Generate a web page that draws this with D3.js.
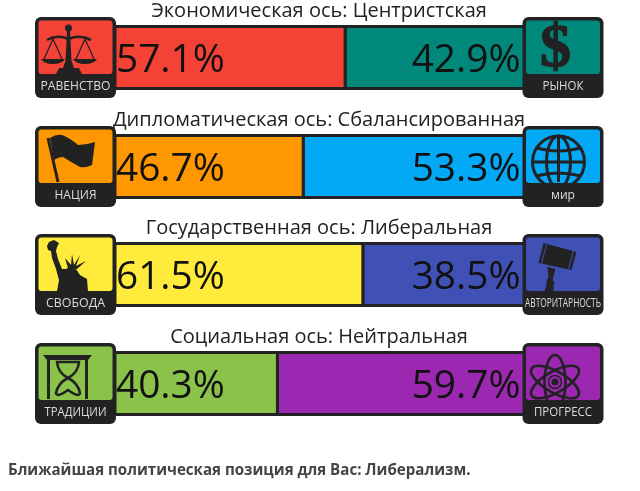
<!DOCTYPE html>
<html><head><meta charset="utf-8">
<script src="https://cdnjs.cloudflare.com/ajax/libs/d3/7.8.5/d3.min.js"></script>
<style>html,body{margin:0;padding:0;background:#fff}svg{display:block;filter:blur(.35px)}text{font-family:"Open Sans",sans-serif}</style>
</head><body><div id="chart"></div>
<script>
const axisTitles = ["Экономическая ось: Центристская","Дипломатическая ось: Сбалансированная","Государственная ось: Либеральная","Социальная ось: Нейтральная"];
const leftValues = [57.1,46.7,61.5,40.3];
const rightValues = [42.9,53.3,38.5,59.7];
const leftColors = ["#f44336","#ff9800","#ffeb3b","#8bc34a"];
const rightColors = ["#00897b","#03a9f4","#3f51b5","#9c27b0"];
const leftLabels = ["РАВЕНСТВО","НАЦИЯ","СВОБОДА","ТРАДИЦИИ"];
const rightLabels = ["РЫНОК","мир","АВТОРИТАРНОСТЬ","ПРОГРЕСС"];
const leftLabelWidths = [70,42,59,62];
const rightLabelWidths = [41,24,76,58];
const leftIcons = ["scales","flag","liberty","hourglass"];
const rightIcons = ["dollar","globe","gavel","atom"];
const rowTops = [17,126,234,343];
const footer = "Ближайшая политическая позиция для Вас: Либерализм.";

const dark="#222";
const svg=d3.select("#chart").append("svg").attr("width",640).attr("height",491);
const x=d3.scaleLinear().domain([0,100]).range([115,518]);

const iconDraw={
 scales(g){
  g.append("circle").attr("cx",33.5).attr("cy",11).attr("r",3.5).attr("fill",dark);
  g.append("path").attr("fill",dark).attr("d","M32 14h3l1.5 30 2.5 7H28l2.5-7z");
  g.append("path").attr("fill",dark).attr("d","M21 57l3-6h20l3 6z");
  g.append("path").attr("fill","none").attr("stroke",dark).attr("stroke-width",2.6).attr("d","M12 23Q22 17 33.5 22Q45 17 56 23");
  g.append("path").attr("fill","none").attr("stroke",dark).attr("stroke-width",1.3).attr("d","M18 22L9 42M18 22L27 42M50 22L41 42M50 22L59 42");
  g.append("path").attr("fill",dark).attr("d","M6 42H30Q27 47 18 47Q9 47 6 42zM38 42H62Q59 47 50 47Q41 47 38 42z");
 },
 flag(g){
  g.append("path").attr("fill","none").attr("stroke",dark).attr("stroke-width",3).attr("d","M13 12L23 56");
  g.append("path").attr("fill",dark).attr("d","M15 12Q21 8 27 9Q35 12 43 19Q52 19 60 16L57 39Q51 42 45 41Q36 36 28 31Q23 31 19 34z");
 },
 liberty(g){
  g.append("path").attr("fill",dark).attr("d","M12 12L14 8L19 6L24 9L22 13L21 17L23 25L27 35L31 35L36 32L41 35L45 41L52 45L53 57H22L24 46L21 35L17 24L16 17L13 16z");
  g.append("path").attr("fill",dark).attr("d","M33 34L30 24L36 31L37 20L39 31L45 21L41 32L51 27L42 35z");
 },
 hourglass(g){
  g.append("path").attr("fill",dark).attr("d","M8 12H57L53 17H12zM12 17h3V56h-3zM50 17h3V56h-3z");
  g.append("path").attr("fill","none").attr("stroke",dark).attr("stroke-width",2.6).attr("d","M22 19Q23 30 33 35Q43 30 44 19zM33 35Q23 40 21 50Q22 55 33 47Q44 55 45 50Q43 40 33 35z");
 },
 dollar(g){
  g.append("text").attr("x",33).attr("y",49).attr("text-anchor","middle").attr("fill",dark).attr("stroke",dark).attr("stroke-width",1.4).attr("font-size",62).style("font-family","'Liberation Serif',serif").attr("font-weight",700).text("$");
 },
 globe(g){
  const p=g.append("g").attr("fill","none").attr("stroke",dark).attr("stroke-width",3);
  p.append("circle").attr("cx",36).attr("cy",36).attr("r",26);
  p.append("ellipse").attr("cx",36).attr("cy",36).attr("rx",12).attr("ry",26);
  p.append("path").attr("d","M36 10V56M10 36H62M14 22Q36 28 58 22M14 50Q36 44 58 50");
 },
 gavel(g){
  g.append("path").attr("fill",dark).attr("d","M21 9L54 18L49 36L16 29z");
  g.append("path").attr("fill","none").attr("stroke",rightColors[2]).attr("stroke-width",1).attr("d","M24 10L19 30M51 17L46 35");
  g.append("path").attr("fill",dark).attr("d","M25 33L33 35L30 46L32 48L31 52L31 57H22L24 51L24 46L26 44z");
 },
 atom(g){
  const c=g.append("g").attr("fill","none").attr("stroke",dark).attr("stroke-width",2.6);
  [90,30,-30].forEach(a=>c.append("ellipse").attr("cx",32.5).attr("cy",39).attr("rx",27).attr("ry",10.5).attr("transform",`rotate(${a} 32.5 39)`));
  g.append("circle").attr("cx",32.5).attr("cy",39).attr("r",3.5).attr("fill",dark);
  g.append("circle").attr("cx",32.5).attr("cy",39).attr("r",6.5).attr("fill","none").attr("stroke",dark).attr("stroke-width",1.5);
 }
};

function drawIcon(parent,xPos,fill,iconName,label,labelW,idx){
 const g=parent.append("g").attr("transform",`translate(${xPos},0)`);
 const clip=`clip-${idx}`;
 g.append("clipPath").attr("id",clip).append("rect").attr("x",3).attr("y",3).attr("width",75).attr("height",54).attr("rx",3);
 g.append("rect").attr("width",81).attr("height",81).attr("rx",6).attr("fill",dark);
 g.append("rect").attr("x",3.5).attr("y",3.5).attr("width",74).attr("height",53.5).attr("rx",3).attr("fill",fill);
 iconDraw[iconName](g.append("g").attr("clip-path",`url(#${clip})`));
 g.append("text").attr("x",40.5).attr("y",73).attr("text-anchor","middle").attr("fill","#dcdcdc").attr("font-size",13).attr("font-weight",500)
  .attr("textLength",labelW).attr("lengthAdjust","spacingAndGlyphs").text(label);
}

const rightOverhang=8;
axisTitles.forEach((t,i)=>{
 const row=svg.append("g").attr("transform",`translate(0,${rowTops[i]})`);
 const barY=9.5,barH=62;
 row.append("rect").attr("x",x(leftValues[i])).attr("y",barY).attr("width",x(leftValues[i]+rightValues[i])-x(leftValues[i])+rightOverhang).attr("height",barH)
  .attr("fill",rightColors[i]).attr("stroke",dark).attr("stroke-width",3);
 row.append("rect").attr("x",x(0)).attr("y",barY).attr("width",x(leftValues[i])-x(0)).attr("height",barH)
  .attr("fill",leftColors[i]).attr("stroke",dark).attr("stroke-width",3);
 row.append("text").attr("x",319).attr("y",0).attr("text-anchor","middle").attr("font-size",20).attr("fill","#222").text(t);
 row.append("text").attr("x",116).attr("y",55).attr("font-size",38.8).attr("fill","#111").text(leftValues[i].toFixed(1)+"%");
 row.append("text").attr("x",520.5).attr("y",55).attr("text-anchor","end").attr("font-size",38.8).attr("fill","#111").text(rightValues[i].toFixed(1)+"%");
 drawIcon(row,35,leftColors[i],leftIcons[i],leftLabels[i],leftLabelWidths[i],"l"+i);
 drawIcon(row,522.5,rightColors[i],rightIcons[i],rightLabels[i],rightLabelWidths[i],"r"+i);
});
svg.append("text").attr("x",8).attr("y",475).attr("font-size",15.1).attr("font-weight",700).attr("fill","#444").text(footer);
</script></body></html>
